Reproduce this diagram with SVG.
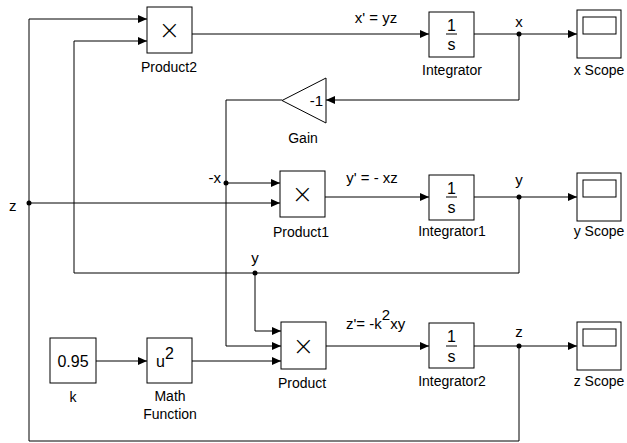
<svg xmlns="http://www.w3.org/2000/svg" width="627" height="443" viewBox="0 0 627 443">
<defs>
<style>
.blk{fill:#fff;stroke:#000;stroke-width:1}
.ln{fill:none;stroke:#000;stroke-width:1}
.ar{marker-end:url(#ah)}
text{font-family:"Liberation Sans",Arial,sans-serif;fill:#000}
.lbl{font-size:14px;text-anchor:middle}
.sig{font-size:15px}
.in{font-size:16px;text-anchor:middle}
.mul{font-size:26px;text-anchor:middle;font-family:"DejaVu Sans",sans-serif;font-weight:200}
.dot{fill:#000}
</style>
<marker id="ah" markerUnits="userSpaceOnUse" markerWidth="10" markerHeight="9" refX="9" refY="4.5" orient="auto">
<path d="M0,0.5 L9,4.5 L0,8.5 z" fill="#000"/>
</marker>
</defs>
<rect width="627" height="443" fill="#fff"/>

<g id="connectors">
<path class="ln ar" d="M192,34 H429"/>
<path class="ln ar" d="M474,34 H577"/>
<path class="ln ar" d="M519,34 V100 H326"/>
<path class="ln ar" d="M282,100 H226 V346 H281"/>
<path class="ln ar" d="M226,183 H280"/>
<path class="ln ar" d="M519,346 V441 H29 V19 H147"/>
<path class="ln ar" d="M29,203 H280"/>
<path class="ln ar" d="M325,197 H429"/>
<path class="ln ar" d="M474,197 H577"/>
<path class="ln ar" d="M519,197 V273 H74 V41 H147"/>
<path class="ln ar" d="M255,273 V331 H281"/>
<path class="ln ar" d="M96,361 H147"/>
<path class="ln ar" d="M192,361 H281"/>
<path class="ln ar" d="M326,346 H429"/>
<path class="ln ar" d="M474,346 H577"/>
<circle class="dot" cx="519" cy="34" r="2.5"/>
<circle class="dot" cx="226" cy="183" r="2.5"/>
<circle class="dot" cx="29" cy="203" r="2.5"/>
<circle class="dot" cx="519" cy="197" r="2.5"/>
<circle class="dot" cx="255" cy="273" r="2.5"/>
<circle class="dot" cx="519" cy="346" r="2.5"/>
<text class="sig" x="376" y="23" text-anchor="middle">x' = yz</text>
<text class="sig" x="519" y="27" text-anchor="middle">x</text>
<text class="sig" x="372" y="183" text-anchor="middle">y' = - xz</text>
<text class="sig" x="519" y="185" text-anchor="middle">y</text>
<text class="sig" x="221" y="183" text-anchor="end">-x</text>
<text class="sig" x="9" y="211">z</text>
<text class="sig" x="255" y="263" text-anchor="middle">y</text>
<text class="sig" x="519" y="337" text-anchor="middle">z</text>
<text class="sig" x="346" y="329">z'= -k<tspan dy="-9">2</tspan><tspan dy="9">xy</tspan></text>
</g>

<g id="product2">
<rect class="blk" x="147" y="7" width="45" height="46"/>
<text class="mul" x="169.5" y="39">×</text>
<text class="lbl" x="169" y="72">Product2</text>
</g>
<g id="integrator">
<rect class="blk" x="429" y="12" width="45" height="45"/>
<text class="in" x="451.5" y="31">1</text>
<line class="ln" x1="446" y1="34" x2="457" y2="34"/>
<text class="in" x="451.5" y="50">s</text>
<text class="lbl" x="452" y="75">Integrator</text>
</g>
<g id="x-scope">
<rect class="blk" x="577" y="10" width="44" height="48"/>
<rect class="blk" x="583" y="17" width="33" height="17"/>
<text class="lbl" x="599" y="75">x Scope</text>
</g>
<g id="gain">
<polygon class="blk" points="326,78 326,123 282,100.5"/>
<text x="323" y="106" font-size="15" text-anchor="end">-1</text>
<text class="lbl" x="303" y="143">Gain</text>
</g>
<g id="product1">
<rect class="blk" x="280" y="171" width="45" height="46"/>
<text class="mul" x="302.5" y="203">×</text>
<text class="lbl" x="301" y="237">Product1</text>
</g>
<g id="integrator1">
<rect class="blk" x="429" y="175" width="45" height="45"/>
<text class="in" x="451.5" y="194">1</text>
<line class="ln" x1="446" y1="197" x2="457" y2="197"/>
<text class="in" x="451.5" y="213">s</text>
<text class="lbl" x="452" y="236">Integrator1</text>
</g>
<g id="y-scope">
<rect class="blk" x="577" y="173" width="44" height="48"/>
<rect class="blk" x="583" y="180" width="33" height="17"/>
<text class="lbl" x="599" y="236">y Scope</text>
</g>
<g id="k">
<rect class="blk" x="50" y="338" width="46" height="45"/>
<text class="in" x="73" y="367">0.95</text>
<text class="lbl" x="73" y="402">k</text>
</g>
<g id="math-function">
<rect class="blk" x="147" y="338" width="45" height="45"/>
<text x="165" y="367" font-size="16" text-anchor="middle">u<tspan dy="-8">2</tspan></text>
<text class="lbl" x="170" y="401">Math</text>
<text class="lbl" x="170" y="419">Function</text>
</g>
<g id="product">
<rect class="blk" x="281" y="322" width="45" height="47"/>
<text class="mul" x="303.5" y="355">×</text>
<text class="lbl" x="302" y="388">Product</text>
</g>
<g id="integrator2">
<rect class="blk" x="429" y="323" width="45" height="45"/>
<text class="in" x="451.5" y="342">1</text>
<line class="ln" x1="446" y1="346" x2="457" y2="346"/>
<text class="in" x="451.5" y="362">s</text>
<text class="lbl" x="452" y="386">Integrator2</text>
</g>
<g id="z-scope">
<rect class="blk" x="577" y="322" width="44" height="48"/>
<rect class="blk" x="583" y="329" width="33" height="17"/>
<text class="lbl" x="599" y="386">z Scope</text>
</g>
</svg>
